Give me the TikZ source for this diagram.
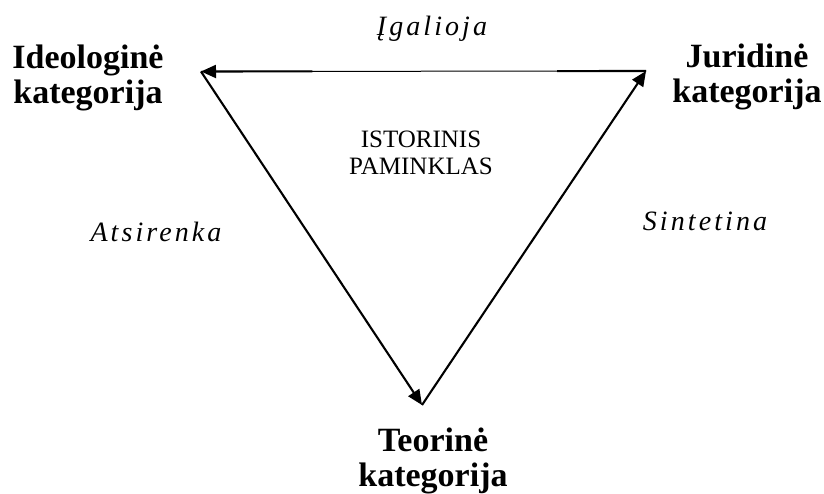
\documentclass[tikz,border=0pt]{standalone}
\usepackage{fontspec}
\setmainfont{Liberation Serif}
\newfontfamily\spacedfont[LetterSpace=11]{Liberation Serif}
\usetikzlibrary{arrows.meta,calc}
\tikzset{
  kategorija/.style={font=\bfseries\fontsize{34}{35}\selectfont, align=center, inner sep=0pt},
  veiksmas/.style={font=\spacedfont\itshape\fontsize{28}{30}\selectfont, anchor=base, inner sep=0pt},
  rodykle/.style={line width=2.1pt, -{Triangle[length=15pt,width=13pt]}}
}
\begin{document}
\begin{tikzpicture}[x=1pt,y=-1pt]
\useasboundingbox (0,0) rectangle (824,494);
\coordinate (tl) at (201,71.5);
\coordinate (tr) at (646,71);
\coordinate (bt) at (422,405);
% top side: thin in the middle
\draw[line width=1pt] (tr) -- (tl);
\draw[line width=2.1pt] (tr) -- ($(tr)!0.2!(tl)$);
\draw[rodykle] ($(tl)!0.25!(tr)$) -- (tl);
\draw[rodykle] (tl) -- (bt);
\draw[rodykle] (bt) -- (tr);
\node[kategorija] (ideol) at (88,78) {Ideologinė\\kategorija};
\node[kategorija] (jurid) at (747,77) {Juridinė\\kategorija};
\node[kategorija] (teor) at (433,461) {Teorinė\\kategorija};
\node[veiksmas] (igal) at (432,36) {Įgalioja};
\node[veiksmas] (atsir) at (156,242) {Atsirenka};
\node[veiksmas] (sint) at (705,231) {Sintetina};
\node[font=\fontsize{25}{27}\selectfont, align=center, inner sep=0pt] (pamin) at (421,153) {ISTORINIS\\PAMINKLAS};
\end{tikzpicture}
\end{document}
